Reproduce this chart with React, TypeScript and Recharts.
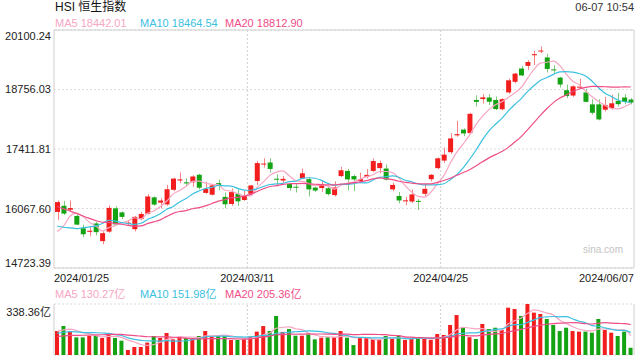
import React from "react";
import {
    ComposedChart,
    Bar,
    Line,
    XAxis,
    YAxis,
    CartesianGrid,
    ReferenceLine,
    Cell,
} from "recharts";

const RED = "#f21d1d";
const GREEN = "#13a313";
const BORDER = "#cfcfcf";
const GRID = "#dcdcdc";
const C_MA5 = "#f7a6c3";
const C_MA10 = "#3cc0e0";
const C_MA20 = "#ee4d88";
const FONT = '"Liberation Sans", Arial, "Noto Sans CJK SC", sans-serif';

const dates = [
    "2024/01/25", "2024/01/26", "2024/01/29", "2024/01/30", "2024/01/31",
    "2024/02/01", "2024/02/02", "2024/02/05", "2024/02/06", "2024/02/07", "2024/02/08", "2024/02/09",
    "2024/02/14", "2024/02/15", "2024/02/16", "2024/02/19", "2024/02/20", "2024/02/21", "2024/02/22",
    "2024/02/23", "2024/02/26", "2024/02/27", "2024/02/28", "2024/02/29",
    "2024/03/01", "2024/03/04", "2024/03/05", "2024/03/06", "2024/03/07", "2024/03/08", "2024/03/11",
    "2024/03/12", "2024/03/13", "2024/03/14", "2024/03/15", "2024/03/18", "2024/03/19", "2024/03/20",
    "2024/03/21", "2024/03/22", "2024/03/25", "2024/03/26", "2024/03/27", "2024/03/28",
    "2024/04/02", "2024/04/03", "2024/04/05", "2024/04/08", "2024/04/09", "2024/04/10", "2024/04/11",
    "2024/04/12", "2024/04/15", "2024/04/16", "2024/04/17", "2024/04/18", "2024/04/19", "2024/04/22",
    "2024/04/23", "2024/04/24", "2024/04/25", "2024/04/26", "2024/04/29", "2024/04/30",
    "2024/05/02", "2024/05/03", "2024/05/06", "2024/05/07", "2024/05/08", "2024/05/09", "2024/05/10",
    "2024/05/13", "2024/05/14", "2024/05/16", "2024/05/17", "2024/05/20", "2024/05/21", "2024/05/22",
    "2024/05/23", "2024/05/24", "2024/05/27", "2024/05/28", "2024/05/29", "2024/05/30", "2024/05/31",
    "2024/06/03", "2024/06/04", "2024/06/05", "2024/06/06", "2024/06/07",
];

const opens = [
    15990, 16130, 16040, 15900, 15620, 15540, 15730, 15330, 15545, 16070,
    15980, 15720, 15600, 15830, 15950, 16320, 16200, 16160, 16490, 16700,
    16660, 16660, 16830, 16420, 16380, 16640, 16330, 16170, 16400, 16260,
    16400, 16690, 17060, 17107, 16740, 16700, 16620, 16560, 16750, 16730,
    16540, 16530, 16525, 16370, 16800, 16917, 16800, 16690, 16780, 16917,
    16980, 16970, 16500, 16350, 16230, 16225, 16240, 16400, 16730, 16980,
    17150, 17340, 17720, 17850, 17770, 18520, 18540, 18575, 18520, 18310,
    18690, 18930, 19230, 19290, 19530, 19620, 19480, 19210, 19025, 18740,
    18620, 18800, 18690, 18420, 18420, 18300, 18340, 18500, 18575, 18530,
];

const highs = [
    16250, 16240, 16250, 15930, 15700, 15650, 15760, 15550, 16140, 16120,
    16000, 15800, 15900, 15990, 16390, 16340, 16300, 16600, 16760, 16880,
    16750, 16820, 16850, 16670, 16620, 16720, 16430, 16520, 16500, 16465,
    16600, 17143, 17204, 17204, 16842, 16800, 16640, 16617, 16970, 16780,
    16560, 16690, 16578, 16680, 17007, 16960, 16830, 16880, 16960, 17198,
    17150, 17060, 16650, 16440, 16330, 16500, 16280, 16620, 16842, 17220,
    17446, 17769, 18047, 17880, 18230, 18627, 18650, 18650, 18600, 18560,
    19000, 19130, 19290, 19420, 19628, 19727, 19560, 19300, 19040, 18870,
    18850, 19000, 18770, 18537, 18537, 18590, 18640, 18680, 18650, 18560,
];

const lows = [
    15810, 15920, 15990, 15690, 15420, 15440, 15460, 15260, 15520, 15690,
    15830, 15690, 15550, 15800, 15930, 16130, 16070, 16130, 16460, 16640,
    16580, 16560, 16500, 16400, 16360, 16480, 16075, 16130, 16126, 16240,
    16360, 16600, 16990, 16880, 16578, 16650, 16470, 16430, 16730, 16338,
    16440, 16443, 16360, 16338, 16780, 16480, 16460, 16640, 16750, 16890,
    16860, 16700, 16460, 16183, 16140, 16190, 16036, 16350, 16680, 16950,
    17100, 17300, 17690, 17700, 17750, 18372, 18440, 18400, 18290, 18280,
    18660, 18900, 19060, 19200, 19306, 19580, 19140, 19100, 18800, 18560,
    18590, 18780, 18470, 18190, 18060, 18260, 18300, 18370, 18420, 18420,
];

const closes = [
    16211.96, 15952.23, 16077.24, 15703.45, 15485.07, 15566.21, 15533.56, 15510.01, 16081.89, 15707.63,
    15878.07, 15746.58, 15879.38, 15944.63, 16339.96, 16155.61, 16247.51, 16503.1, 16742.95, 16725.86,
    16634.74, 16790.8, 16536.85, 16511.44, 16589.44, 16595.97, 16162.64, 16438.09, 16229.78, 16353.39,
    16587.92, 17093.5, 17082.11, 16961.59, 16720.89, 16737.11, 16529.48, 16543.07, 16863.1, 16499.47,
    16473.64, 16618.32, 16392.84, 16541.42, 16931.52, 16725.1, 16723.92, 16732.85, 16828.07, 17139.17,
    17095.03, 16721.69, 16600.46, 16248.97, 16251.84, 16385.87, 16224.14, 16511.69, 16828.93, 17201.27,
    17284.54, 17651.15, 17746.91, 17763.03, 18207.13, 18475.92, 18578.3, 18479.37, 18313.86, 18537.81,
    18963.68, 19115.06, 19073.71, 19376.53, 19553.61, 19636.22, 19220.62, 19195.6, 18868.71, 18608.94,
    18827.35, 18821.16, 18477.01, 18230.19, 18079.61, 18403.04, 18444.11, 18424.96, 18475.99, 18461.95,
];

// 成交额（亿）
const volumes = [
    159, 192, 155, 117, 117, 126, 126, 113, 139, 113,
    95, 33, 53, 53, 82, 126, 113, 146, 104, 121,
    113, 113, 126, 159, 122, 126, 126, 100, 100, 104,
    122, 155, 192, 159, 259, 153, 172, 128, 128, 137,
    104, 115, 118, 118, 159, 115, 66, 115, 115, 106,
    106, 126, 106, 128, 100, 106, 115, 106, 100, 139,
    133, 199, 265, 181, 118, 106, 206, 172, 181, 166,
    314, 305, 259, 338.36, 281, 272, 239, 199, 159, 181,
    159, 155, 155, 148, 239, 166, 148, 126, 155, 48,
];

// closes / volumes before the first visible day, only used for the moving averages
const priorCloses = [
    17043.53, 17047.39, 16788.55, 16645.98, 16645.83, 16535.33, 16224.45, 16190.02, 16097.28, 16302.01,
    16244.58, 16216.33, 15865.92, 15276.9, 15391.79, 15308.69, 14961.18, 15353.98, 15899.87,
];
const priorVolumes = [95, 90, 105, 110, 100, 98, 102, 100, 97, 105, 120, 118, 130, 160, 125, 140, 130, 165, 190];

const priceTicks = [14723.39, 16067.6, 17411.81, 18756.03, 20100.24];
const volTicks = [0, 338.36];
const dateTicks = [dates[0], dates[30], dates[60], dates[89]];

const movingAvg = (prior: number[], vals: number[], n: number) => {
    const all = prior.concat(vals);
    return vals.map((_, i) => {
        const end = prior.length + i + 1;
        const win = all.slice(end - n, end);
        return win.reduce((a, b) => a + b, 0) / n;
    });
};

const ma5 = movingAvg(priorCloses, closes, 5);
const ma10 = movingAvg(priorCloses, closes, 10);
const ma20 = movingAvg(priorCloses, closes, 20);
const vma5 = movingAvg(priorVolumes, volumes, 5);
const vma10 = movingAvg(priorVolumes, volumes, 10);
const vma20 = movingAvg(priorVolumes, volumes, 20);

const rows = dates.map((d, i) => ({
    date: d,
    open: opens[i],
    high: highs[i],
    low: lows[i],
    close: closes[i],
    range: [lows[i], highs[i]],
    up: closes[i] >= opens[i],
    ma5: ma5[i],
    ma10: ma10[i],
    ma20: ma20[i],
    vol: volumes[i],
    vma5: vma5[i],
    vma10: vma10[i],
    vma20: vma20[i],
}));

const Candle = (props: any) => {
    const { x, y, width, height, payload } = props;
    const { open, close, high, low } = payload;
    const color = close >= open ? RED : GREEN;
    const span = high - low || 1;
    const yOf = (v: number) => y + ((high - v) / span) * height;
    const top = yOf(Math.max(open, close));
    const bot = yOf(Math.min(open, close));
    const cx = Math.round(x + width / 2) + 0.5;
    return (
        <g>
            <line x1={cx} x2={cx} y1={y} y2={y + height} stroke={color} strokeOpacity={0.55} />
            <rect x={x} y={top} width={width} height={Math.max(1, bot - top)} fill={color} />
        </g>
    );
};

const PriceTick = (props: any) => {
    const { x, y, payload } = props;
    const v = payload.value;
    let cy = y;
    if (v === priceTicks[priceTicks.length - 1]) cy = y + 6;
    if (v === priceTicks[0]) cy = y - 5;
    return (
        <text x={x + 5} y={cy + 4} textAnchor="end" fontSize={11} fill="#222" fontFamily={FONT}>
            {v.toFixed(2)}
        </text>
    );
};

const VolTick = (props: any) => {
    const { x, y, payload } = props;
    const v = payload.value;
    const cy = v === 0 ? y - 6 : y + 8;
    return (
        <text x={x + 5} y={cy + 4} textAnchor="end" fontSize={11} fill="#222" fontFamily={FONT}>
            {v === 0 ? "0" : `${v.toFixed(2)}亿`}
        </text>
    );
};

const DateTick = (props: any) => {
    const { x, y, payload } = props;
    const off = payload.offset || 0;
    let anchor: "start" | "middle" | "end" = "middle";
    let tx = x - off;
    if (payload.value === dates[0]) anchor = "start";
    if (payload.value === dates[dates.length - 1]) {
        anchor = "end";
        tx = x + off;
    }
    return (
        <text x={tx} y={y + 6} textAnchor={anchor} fontSize={11} fill="#222" fontFamily={FONT}>
            {payload.value}
        </text>
    );
};

const txt = (extra: React.CSSProperties): React.CSSProperties => ({
    position: "absolute",
    fontFamily: FONT,
    fontSize: 11,
    lineHeight: "13px",
    whiteSpace: "nowrap",
    ...extra,
});

export default function App() {
    return (
        <div style={{ position: "absolute", left: 0, top: 0, width: 640, height: 360, background: "#fff", overflow: "hidden" }}>
            {/* 标题 */}
            <div style={txt({ left: 55, top: 0, fontSize: 12, lineHeight: "15px", color: "#111" })}>HSI 恒生指数</div>
            <div style={txt({ right: 6, top: 1, color: "#333" })}>06-07 10:54</div>
            <div style={txt({ left: 55, top: 17, color: C_MA5 })}>MA5 18442.01</div>
            <div style={txt({ left: 140, top: 17, color: C_MA10 })}>MA10 18464.54</div>
            <div style={txt({ left: 225, top: 17, color: C_MA20 })}>MA20 18812.90</div>
            <div style={txt({ left: 583, top: 243, fontSize: 10, color: "#c4c4c4" })}>sina.com</div>

            {/* K线 */}
            <div style={{ position: "absolute", left: 0, top: 0 }}>
                <ComposedChart width={640} height={290} data={rows} margin={{ top: 30, right: 6, bottom: 0, left: 0 }}>
                    <CartesianGrid vertical={false} stroke={GRID} strokeDasharray="2 2" />
                    <XAxis
                        dataKey="date"
                        ticks={dateTicks}
                        interval={0}
                        height={22}
                        tickLine={false}
                        axisLine={false}
                        tick={<DateTick />}
                    />
                    <YAxis
                        domain={[priceTicks[0], priceTicks[4]]}
                        ticks={priceTicks}
                        width={54}
                        tickLine={false}
                        axisLine={{ stroke: BORDER }}
                        tick={<PriceTick />}
                        allowDataOverflow
                    />
                    <ReferenceLine y={priceTicks[4]} stroke={BORDER} />
                    <ReferenceLine y={priceTicks[0]} stroke={BORDER} />
                    <ReferenceLine x={dates[89]} position="end" stroke={BORDER} />
                    <ReferenceLine x={dates[30]} position="start" stroke={BORDER} strokeDasharray="2 2" />
                    <ReferenceLine x={dates[60]} position="start" stroke={BORDER} strokeDasharray="2 2" />
                    <Bar dataKey="range" barSize={5} shape={<Candle />} isAnimationActive={false} />
                    <Line type="monotone" dataKey="ma5" stroke={C_MA5} strokeWidth={1.2} dot={false} isAnimationActive={false} />
                    <Line type="monotone" dataKey="ma10" stroke={C_MA10} strokeWidth={1.2} dot={false} isAnimationActive={false} />
                    <Line type="monotone" dataKey="ma20" stroke={C_MA20} strokeWidth={1.2} dot={false} isAnimationActive={false} />
                </ComposedChart>
            </div>

            {/* 成交额 */}
            <div style={txt({ left: 55, top: 288, color: C_MA5 })}>MA5 130.27亿</div>
            <div style={txt({ left: 140, top: 288, color: C_MA10 })}>MA10 151.98亿</div>
            <div style={txt({ left: 225, top: 288, color: C_MA20 })}>MA20 205.36亿</div>
            <div style={{ position: "absolute", left: 0, top: 290 }}>
                <ComposedChart width={640} height={70} data={rows} margin={{ top: 14, right: 6, bottom: 5, left: 0 }}>
                    <CartesianGrid vertical={false} stroke={GRID} strokeDasharray="2 2" />
                    <XAxis dataKey="date" hide />
                    <YAxis
                        domain={[0, volTicks[1]]}
                        ticks={volTicks}
                        width={54}
                        tickLine={false}
                        axisLine={{ stroke: BORDER }}
                        tick={<VolTick />}
                    />
                    <ReferenceLine x={dates[89]} position="end" stroke={BORDER} />
                    <ReferenceLine x={dates[30]} position="start" stroke={BORDER} strokeDasharray="2 2" />
                    <ReferenceLine x={dates[60]} position="start" stroke={BORDER} strokeDasharray="2 2" />
                    <Bar dataKey="vol" barSize={4} isAnimationActive={false}>
                        {rows.map((r, i) => (
                            <Cell key={`v-${i}`} fill={r.up ? RED : GREEN} />
                        ))}
                    </Bar>
                    <Line type="monotone" dataKey="vma5" stroke={C_MA5} strokeWidth={1.2} dot={false} isAnimationActive={false} />
                    <Line type="monotone" dataKey="vma10" stroke={C_MA10} strokeWidth={1.2} dot={false} isAnimationActive={false} />
                    <Line type="monotone" dataKey="vma20" stroke={C_MA20} strokeWidth={1.2} dot={false} isAnimationActive={false} />
                </ComposedChart>
            </div>
        </div>
    );
}
